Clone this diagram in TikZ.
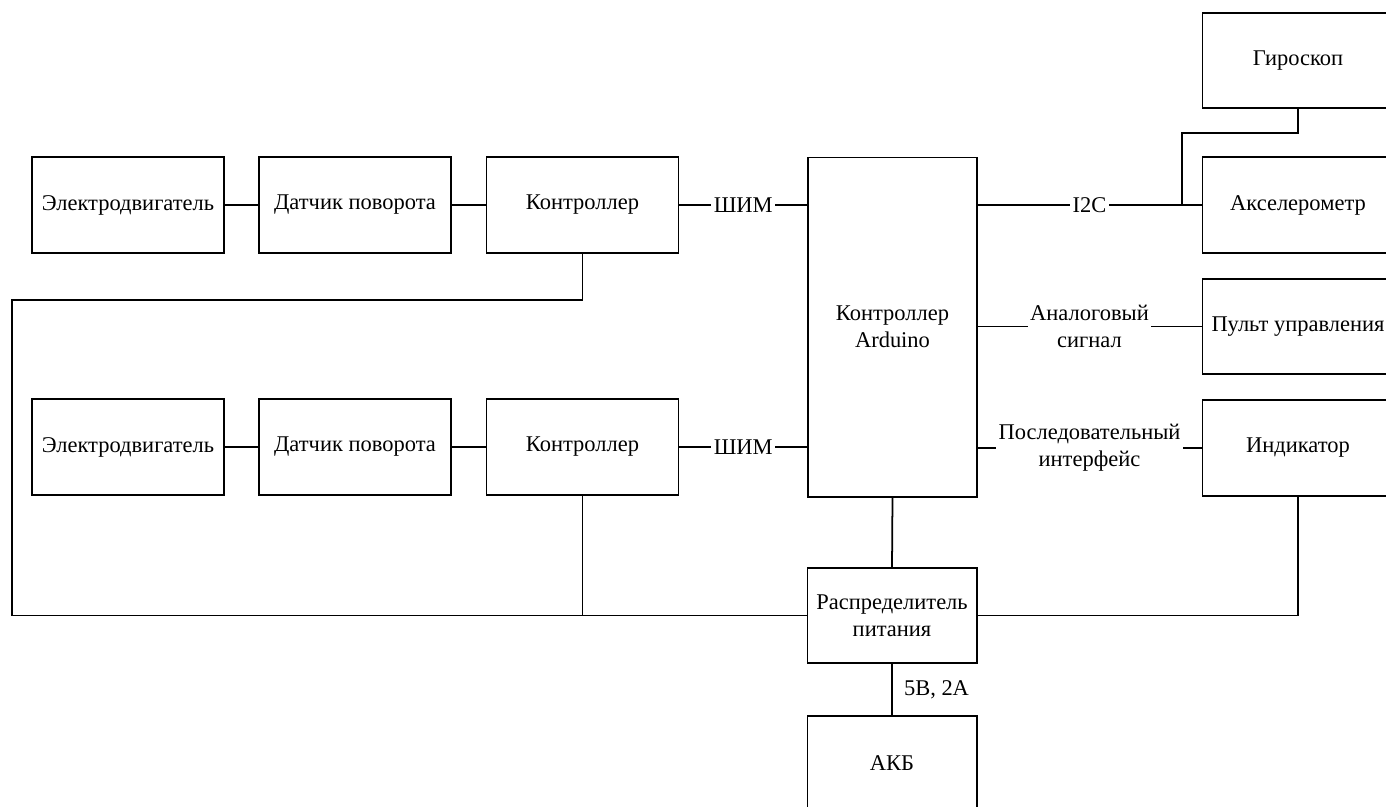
\documentclass[tikz,border=0pt]{standalone}
\usepackage{fontspec}
\setmainfont{Liberation Serif}
\begin{document}
\begin{tikzpicture}[x=0.02cm,y=-0.02cm]
	\tikzstyle{every node}=[font=\fontsize{12.8}{15.5}\selectfont]
	\tikzstyle{blok}=[draw,line width=0.6pt,minimum width=3.84cm,minimum height=1.92cm,inner sep=0pt,align=center]
	\tikzstyle{svyaz}=[line width=1pt]
	\tikzstyle{metka}=[fill=white,inner sep=1.5pt,align=center]
	\clip (0,0) rectangle (1386,806);
	
	% verhnij ryad
	\node [blok] (dvig1) at (128,205) {Электродвигатель};
	\node [blok] (dat1) at (355,205) {Датчик поворота};
	\node [blok] (kontr1) at (582.5,205) {Контроллер};
	
	% nizhnij ryad
	\node [blok] (dvig2) at (128,447) {Электродвигатель};
	\node [blok] (dat2) at (355,447) {Датчик поворота};
	\node [blok] (kontr2) at (582.5,447) {Контроллер};
	
	\node [blok,minimum width=3.38cm,minimum height=6.8cm] (ard) at (892.5,327) {Контроллер\\Arduino};
	\node [blok,minimum width=3.4cm,minimum height=1.9cm] (rasp) at (892,615.5) {Распределитель\\питания};
	\node [blok,minimum width=3.4cm,minimum height=1.9cm] (akb) at (892,763.5) {АКБ};
	
	\node [blok,minimum height=1.9cm] (giro) at (1298,60.5) {Гироскоп};
	\node [blok] (aksel) at (1298,205) {Акселерометр};
	\node [blok,minimum height=1.9cm] (pult) at (1298,326.5) {Пульт управления};
	\node [blok] (ind) at (1298,448) {Индикатор};
	
	\coordinate (petlya) at (12,300);
	\coordinate (uzel) at (1182,205);
	
	\draw [svyaz] (dvig1) -- (dat1);
	\draw [svyaz] (dat1) -- (kontr1);
	\draw [svyaz] (kontr1) -- node[metka]{ШИМ} (kontr1 -| ard.west);
	\draw [svyaz] (dvig2) -- (dat2);
	\draw [svyaz] (dat2) -- (kontr2);
	\draw [svyaz] (kontr2) -- node[metka]{ШИМ} (kontr2 -| ard.west);
	
	\draw [svyaz] (aksel -| ard.east) -- node[metka]{I2C} (aksel.west);
	\draw [svyaz] (giro.south) |- (1182,133) -- (uzel);
	\draw [svyaz] (pult -| ard.east) -- node[metka]{Аналоговый\\сигнал} (pult.west);
	\draw [svyaz] (ind -| ard.east) -- node[metka]{Последовательный\\интерфейс} (ind.west);
	
	% pitanie
	\draw [svyaz] (kontr1.south) |- (petlya) |- (rasp.west);
	\draw [svyaz] (kontr2.south) -- (kontr2.south |- rasp.west);
	\draw [svyaz] (ard.south) -- (rasp.north);
	\draw [svyaz] (ind.south) |- (rasp.east);
	\draw [svyaz] (rasp.south) -- node[right,xshift=3pt]{5В, 2А} (akb.north);
\end{tikzpicture}
\end{document}
